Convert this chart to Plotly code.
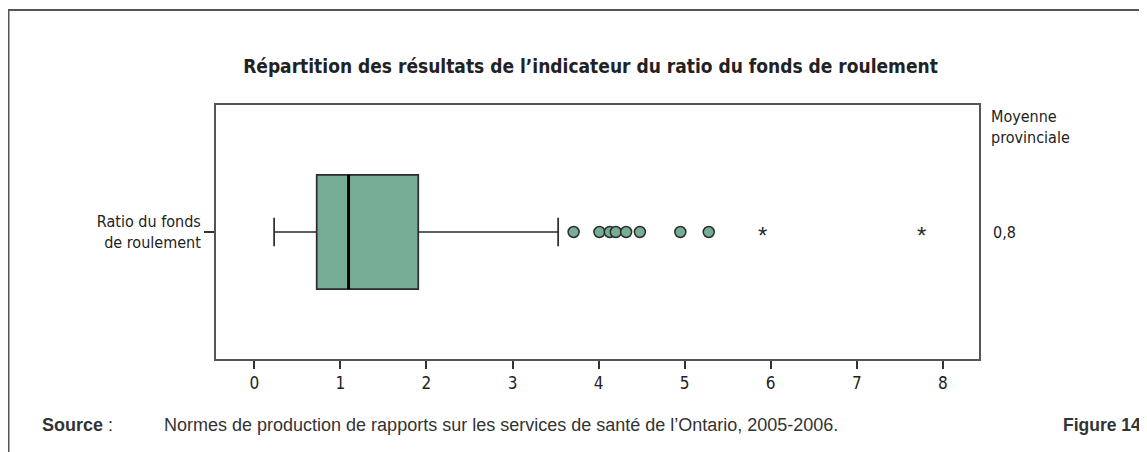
import plotly.graph_objects as go

# ---- data ----
category = "Ratio du fonds<br>de roulement"
q1 = [0.725]
median = [1.095]
q3 = [1.905]
lower_whisker = [0.23]
upper_whisker = [3.53]
outliers = [3.71, 4.01, 4.13, 4.20, 4.32, 4.48, 4.95, 5.28]
extremes = [5.90, 7.75]
provincial_mean = "0,8"
x_ticks = [0, 1, 2, 3, 4, 5, 6, 7, 8]

title = "Répartition des résultats de l’indicateur du ratio du fonds de roulement"
source_label = "<b>Source</b> :"
source_text = "Normes de production de rapports sur les services de santé de l’Ontario, 2005-2006."
figure_label = "<b>Figure 14</b>"

FILL = "#77AD97"
EDGE = "#2b2b2b"
NARROW = "Liberation Sans Narrow, Arial Narrow, DejaVu Sans Condensed, sans-serif"
ARIAL = "Liberation Sans, Arial, sans-serif"
BOX_WIDTH = 0.9

# page offset (browser body margin) compensation: work in figure pixels
W, H = 1139, 444
L, R, T, B = 208, 971, 97, 351
PW, PH = R - L, B - T


def px(X):  # window x -> paper
    return (X - 8 - L) / PW


def py(Y):  # window y -> paper
    return (B - (Y - 8)) / PH


fig = go.Figure()

fig.add_trace(go.Box(
    y=[0], q1=q1, median=median, q3=q3,
    lowerfence=lower_whisker, upperfence=upper_whisker,
    orientation="h", boxpoints=False,
    fillcolor=FILL, line=dict(color=EDGE, width=1.7),
    width=BOX_WIDTH, whiskerwidth=0.25, hoverinfo="skip", showlegend=False,
))

# thicker median line
fig.add_trace(go.Scatter(
    x=[median[0], median[0]], y=[-BOX_WIDTH / 2, BOX_WIDTH / 2],
    mode="lines", line=dict(color="black", width=3),
    hoverinfo="skip", showlegend=False,
))

fig.add_trace(go.Scatter(
    x=outliers, y=[0] * len(outliers), mode="markers",
    marker=dict(symbol="circle", size=11, color=FILL, line=dict(color=EDGE, width=1.5)),
    hoverinfo="skip", showlegend=False,
))

annotations = []
for v in extremes:
    annotations.append(dict(
        x=v, y=0, xref="x", yref="y", text="*", showarrow=False,
        xanchor="center", yanchor="middle", yshift=-3,
        font=dict(family=ARIAL, size=24, color=EDGE)))

fig.update_xaxes(
    range=[-0.445, 8.42], tickvals=x_ticks, ticktext=[str(t) for t in x_ticks],
    ticks="outside", ticklen=8, tickwidth=1.5, tickcolor="#333",
    showline=True, mirror=True, linecolor="#555", linewidth=2,
    showgrid=False, zeroline=False,
    tickfont=dict(family=NARROW, size=17, color="#222"),
)
fig.update_yaxes(
    range=[-1, 1], tickvals=[0], ticktext=[category],
    ticks="outside", ticklen=10, tickwidth=1.5, tickcolor="#333",
    showline=True, mirror=True, linecolor="#555", linewidth=2,
    showgrid=False, zeroline=False,
    tickfont=dict(family=NARROW, size=16, color="#222"),
)

annotations += [
    dict(text="Moyenne<br>provinciale", xref="paper", yref="paper",
         x=px(989), y=py(105), xanchor="left", yanchor="top",
         align="left", showarrow=False,
         font=dict(family=NARROW, size=16, color="#222")),
    dict(text=provincial_mean, xref="paper", yref="y",
         x=px(991), y=0, xanchor="left", yanchor="middle",
         showarrow=False, font=dict(family=NARROW, size=16, color="#222")),
    dict(text=source_label, xref="paper", yref="paper",
         x=px(40), y=py(425), xanchor="left", yanchor="middle",
         showarrow=False, font=dict(family=ARIAL, size=18, color="#333")),
    dict(text=source_text, xref="paper", yref="paper",
         x=px(162), y=py(425), xanchor="left", yanchor="middle",
         showarrow=False, font=dict(family=ARIAL, size=18, color="#333")),
    dict(text=figure_label, xref="paper", yref="paper",
         x=px(1143), y=py(425), xanchor="right", yanchor="middle",
         showarrow=False, font=dict(family=ARIAL, size=17.5, color="#333")),
]

fig.update_layout(
    width=W, height=H,
    margin=dict(l=L, r=W - R, t=T, b=H - B),
    paper_bgcolor="white", plot_bgcolor="white",
    title=dict(text="<b>" + title + "</b>", x=0.5 - 7 / PW, xref="paper", xanchor="center",
               y=1 - (66 - 8) / H, yanchor="middle",
               font=dict(family=NARROW, size=19, color="#222")),
    shapes=[dict(type="rect", xref="paper", yref="paper",
                 x0=(0.5 - L) / PW, x1=1.5, y0=-1.0, y1=(B - 2) / PH,
                 line=dict(color="#555", width=2))],
    annotations=annotations,
)

fig.write_html("out.html")
